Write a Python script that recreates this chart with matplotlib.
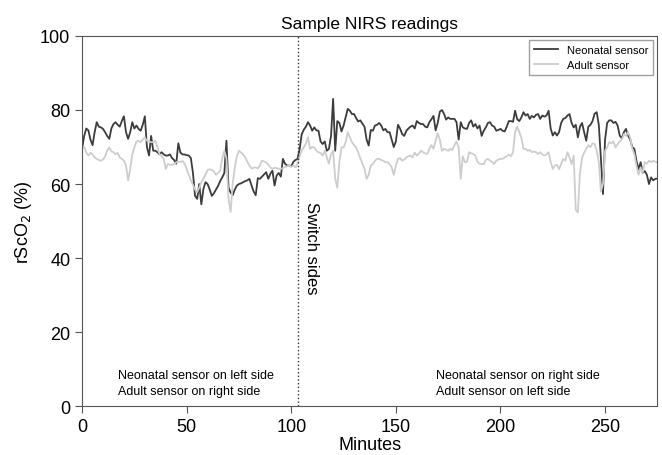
import numpy as np
import matplotlib.pyplot as plt

plt.rcParams['font.family'] = ['Liberation Sans', 'DejaVu Sans']

# one reading per minute, 0..275
neonatal = [
    69.5, 73, 75, 74.5, 72, 70.5, 74, 76.7, 75.5, 75.3,
    74.9, 74, 73, 72.2, 75, 76.2, 76.7, 76, 75.5, 77,
    78.3, 74, 72.2, 74, 76.7, 75, 75.8, 74.9, 74.4, 76,
    78.3, 70, 67.7, 73, 69, 69, 68.6, 68, 68.6, 68,
    67.7, 67.7, 68, 67, 66.5, 65.5, 71, 68.5, 68, 68,
    67.8, 67.7, 67, 63, 56.8, 56, 60, 54.5, 58.7, 60.5,
    60, 58.5, 56.8, 57.5, 58.5, 59.5, 60.8, 61.8, 63, 71.7,
    59, 57.7, 57, 58.5, 59.6, 60, 60.2, 60.5, 60.8, 61,
    61.4, 59.6, 58, 57, 61.6, 61.4, 62, 62.6, 63.2, 61.4,
    62.8, 63.6, 59.6, 62.3, 63, 62, 66.8, 65.5, 65, 65,
    64.8, 66, 66.5, 66.8, 69.5, 73.5, 74.7, 75.5, 76.7, 75.8,
    74.4, 75.3, 74.5, 74.4, 71.5, 70.8, 71.5, 69, 69.5, 73,
    83, 69, 77, 76.5, 74.2, 75.8, 78, 80.3, 79.8, 78.9,
    78.9, 77.8, 76.9, 77.2, 76.3, 75.5, 72, 70.4, 74.6, 74.4,
    75.8, 76, 76.5, 75.8, 74.5, 74.9, 74, 74, 72, 70,
    71.5, 76, 75, 73.5, 73, 74.4, 75, 75.5, 75.8, 75,
    77, 76.5, 76.2, 76.2, 75.5, 75.3, 76.7, 77.5, 78.4, 74.5,
    76.5, 79.5, 80, 79, 77.4, 78, 77.6, 77.6, 77.6, 76.7,
    72, 76.7, 75.3, 75, 74.9, 76.5, 77.2, 75.5, 76.2, 75,
    75.8, 73, 74.4, 75.3, 76.5, 76.7, 75.8, 75.5, 74.4, 74.6,
    74.9, 74.4, 74.2, 75.5, 77, 77, 76.8, 79.8, 77.5, 77,
    78, 79.4, 78.5, 78.9, 77.6, 78.4, 78, 78.7, 78.9, 77.6,
    78.5, 78.2, 78.5, 79.8, 75, 73.1, 74, 73.1, 74, 76.5,
    77.6, 77.8, 78.5, 78.9, 76.5, 75.3, 76, 72.6, 75.5, 76.5,
    74, 71.7, 75.5, 76, 77, 79, 79.4, 76, 67, 57.3,
    72, 76.5, 77.2, 77.2, 76.5, 76.8, 75.8, 73.1, 72.4, 74,
    74.9, 73.1, 72, 70, 69.5, 66.3, 64, 65.9, 63, 63.5,
    62.5, 60, 61.8, 61, 61.4, 61.5,
]

adult = [
    69.5, 70, 68.5, 67.7, 68.4, 68, 67.2, 66.8, 66.5, 66.3,
    66.6, 67.5, 69, 69.9, 68.8, 68.6, 68.1, 68.4, 67.2, 66.8,
    66.3, 65, 61, 64, 68, 69.9, 71.5, 71.7, 71.3, 72,
    72.6, 71.7, 71.5, 71.3, 71.3, 71.7, 70, 68.1, 67.5, 66.8,
    64.1, 65.4, 65.2, 65.2, 65.4, 65.9, 66, 66, 66.2, 65.5,
    64, 62.5, 61, 59.8, 58.5, 57.8, 59, 60.5, 61.5, 62.5,
    63.8, 64, 63.8, 63.4, 62.5, 63, 63.6, 67, 69, 67,
    56, 52.5, 60, 64.5, 67.5, 69, 68.5, 68, 67.2, 66,
    65, 64.2, 64.4, 64.5, 64.2, 65, 66.3, 66.1, 65.8, 65.2,
    64.5, 64.1, 64.4, 64.3, 64.1, 64.1, 64.3, 64.6, 64.8, 65,
    64.6, 65, 64.5, 65.5, 67.5, 69, 69.9, 71, 72.6, 69.5,
    70, 69.9, 69, 68.6, 68.4, 67.7, 69, 67.2, 65.5, 68,
    69, 61.5, 59, 66, 69.9, 69.9, 71.3, 74, 72.6, 71.3,
    70.5, 69.9, 68.5, 67, 65.5, 64.1, 61.4, 62.5, 65, 65.4,
    66.3, 66.8, 66.8, 66.5, 66.3, 65.9, 65.9, 65.4, 64.5, 62.5,
    65, 66.8, 67, 66.3, 66.6, 67.2, 67.5, 67.7, 67.2, 68.5,
    67.7, 68.2, 69, 68.6, 68.3, 68.1, 69.5, 70.5, 69.5, 71.7,
    73.7, 72, 69, 69.5, 69.3, 69, 69.5, 69.2, 70.5, 71.5,
    70, 61.4, 67.5, 65.9, 66, 68.6, 68.3, 68.1, 67.7, 66,
    65.5, 65.4, 65.4, 66.5, 66.8, 66.3, 66, 65.4, 66.3, 66.6,
    66.8, 66.8, 67.2, 67.5, 68, 67.5, 68.6, 74, 75.5, 74,
    72.5, 69.5, 69.5, 69, 69.2, 68.6, 68.8, 68.6, 68.1, 68.6,
    68, 67.7, 68, 68.6, 66, 64.1, 65, 65.2, 64, 65.4,
    66.8, 66.3, 68.6, 67.2, 65.4, 67.7, 53, 52.3, 63, 67,
    68.5, 69.5, 70.5, 70, 71, 70.8, 69, 66, 58, 60,
    69, 69.9, 71.3, 71, 71.5, 69.9, 70.8, 71.5, 72, 73.5,
    73, 74, 72.6, 69.5, 68.1, 65, 62.5, 64.5, 63, 65.9,
    65.5, 66.3, 65.9, 66.3, 66, 65.9,
]

minutes = np.arange(len(neonatal))
switch_min = 103

fig = plt.figure(figsize=(6.62, 4.56), dpi=100)
ax = fig.add_axes([0.124, 0.107, 0.869, 0.812])

ax.plot(minutes, neonatal, color='#3c3c3c', lw=1.3, label='Neonatal sensor')
ax.plot(minutes, adult, color='#cdcdcd', lw=1.3, label='Adult sensor')
ax.axvline(switch_min, color='#333333', lw=1, ls=':')

ax.set_xlim(0, 275)
ax.set_ylim(0, 100)
ax.set_xticks([0, 50, 100, 150, 200, 250])
ax.set_yticks([0, 20, 40, 60, 80, 100])
ax.tick_params(labelsize=13, direction='out', length=5, color='#555555')
for s in ax.spines.values():
    s.set_color('#555555')

ax.set_title('Sample NIRS readings', fontsize=12.5)
ax.set_xlabel('Minutes', fontsize=13, labelpad=1)
ax.set_ylabel('rScO$_2$ (%)', fontsize=13)

ax.text(106, 43, 'Switch sides', rotation=-90, fontsize=12, ha='left', va='center')
ax.text(17, 6.3, 'Neonatal sensor on left side\nAdult sensor on right side',
        fontsize=9, va='center', linespacing=1.5)
ax.text(169, 6.3, 'Neonatal sensor on right side\nAdult sensor on left side',
        fontsize=9, va='center', linespacing=1.5)

leg = ax.legend(loc='upper right', fontsize=8, frameon=True, fancybox=False,
                handlelength=2.2, borderaxespad=0.4)
leg.get_frame().set_edgecolor('#888888')

fig.savefig('out.png', dpi=100)
